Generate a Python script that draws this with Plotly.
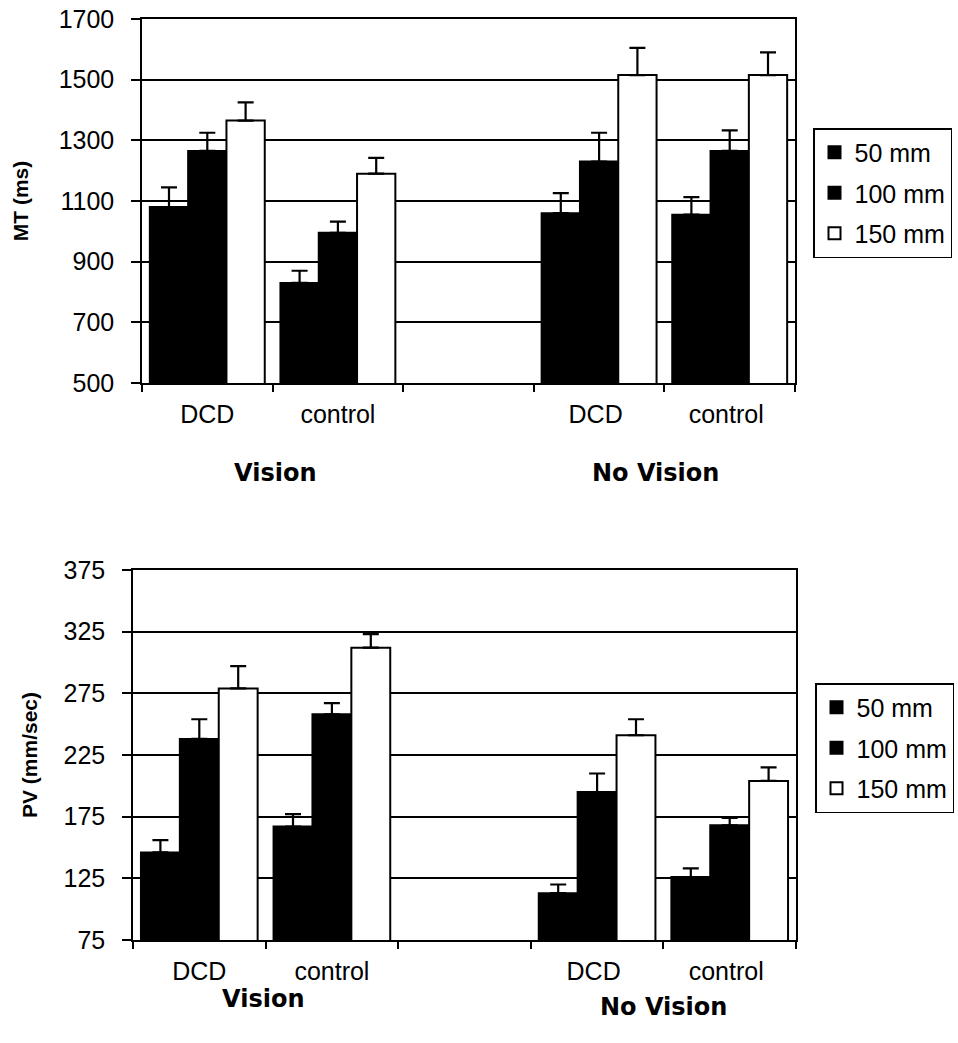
import plotly.graph_objects as go

# ---- data ----
categories = ["DCD", "control", " ", "DCD ", "control "]
series_names = ["50 mm", "100 mm", "150 mm"]

mt_50 = [1080, 830, None, 1060, 1055]
mt_100 = [1265, 995, None, 1230, 1265]
mt_150 = [1365, 1190, None, 1515, 1515]
mt_50_err = [65, 40, None, 66, 58]
mt_100_err = [60, 37, None, 95, 68]
mt_150_err = [60, 52, None, 90, 75]

pv_50 = [146, 167, None, 113, 126]
pv_100 = [238, 258, None, 195, 168]
pv_150 = [279, 312, None, 241, 204]
pv_50_err = [10, 10, None, 7, 7]
pv_100_err = [16, 9, None, 15, 6]
pv_150_err = [18, 11, None, 13, 11]

group_labels = ["Vision", "No Vision"]

W, H = 958, 1043


def px(x):
    return x / W


def py(y):
    return 1 - y / H


FONT = "Liberation Sans, Arial, sans-serif"
BOLD_FONT = "DejaVu Sans, Verdana, sans-serif"

fills = ["black", "black", "white"]

fig = go.Figure()


def add_panel(vals, errs, xa, ya, legend):
    for name, v, e, fc in zip(series_names, vals, errs, fills):
        fig.add_trace(go.Bar(
            x=categories, y=v, name=name,
            marker=dict(color=fc, line=dict(color="black", width=2)),
            error_y=dict(type="data", symmetric=False, array=e,
                         arrayminus=[0 if a is not None else None for a in e],
                         color="black", thickness=2.2, width=8),
            xaxis=xa, yaxis=ya, legend=legend, legendgroup=legend + name,
        ))


add_panel([mt_50, mt_100, mt_150], [mt_50_err, mt_100_err, mt_150_err], "x", "y", "legend")
add_panel([pv_50, pv_100, pv_150], [pv_50_err, pv_100_err, pv_150_err], "x2", "y2", "legend2")


def xaxis_cfg(domain, anchor):
    return dict(
        domain=domain, anchor=anchor, type="category", categoryorder="array",
        categoryarray=categories, automargin=False,
        range=[-0.5, 4.5], tickson="boundaries", ticks="outside", ticklen=7,
        tickcolor="black", tickwidth=1.5, showline=True, linecolor="black", linewidth=1.5,
        mirror=True, showgrid=False, tickfont=dict(family=FONT, size=25, color="black"),
        ticklabelstandoff=8,
    )


def yaxis_cfg(domain, rng, dtick, title, anchor, standoff):
    return dict(
        domain=domain, range=rng, dtick=dtick, tick0=rng[0], ticks="outside", ticklen=9,
        tickcolor="black", tickwidth=1.5, showline=True, linecolor="black", linewidth=1.5,
        mirror=True, showgrid=True, gridcolor="black", gridwidth=1.5, zeroline=False,
        tickfont=dict(family=FONT, size=25, color="black"), ticklabelstandoff=12,
        ticklabeloverflow="allow",
        title=dict(text=title, font=dict(family=FONT, size=21, color="black"), standoff=standoff),
        anchor=anchor, automargin=False,
    )


fig.update_layout(
    width=W, height=H,
    margin=dict(l=0, r=0, t=0, b=0),
    paper_bgcolor="white", plot_bgcolor="white",
    barmode="group", bargap=0.12, bargroupgap=0,
    xaxis=xaxis_cfg([px(142), px(795)], "y"),
    yaxis=yaxis_cfg([py(383), py(19)], [500, 1700], 200, "<b>MT (ms)</b>", "x", 24),
    xaxis2=xaxis_cfg([px(133), px(796)], "y2"),
    yaxis2=yaxis_cfg([py(940), py(570)], [75, 375], 50, "<b>PV (mm/sec)</b>", "x2", 20),
    legend=dict(x=px(813), y=py(128), xanchor="left", yanchor="top",
                bgcolor="white", bordercolor="black", borderwidth=1.5,
                font=dict(family=FONT, size=25, color="black"), tracegroupgap=5,
                itemwidth=30),
    legend2=dict(x=px(815), y=py(683), xanchor="left", yanchor="top",
                 bgcolor="white", bordercolor="black", borderwidth=1.5,
                 font=dict(family=FONT, size=25, color="black"), tracegroupgap=5,
                 itemwidth=30),
    showlegend=True,
)

# group labels below categories
label_pos = [("x", 0.52, 473, "Vision"), ("x", 3.43, 473, "No Vision"),
             ("x2", 0.48, 999, "Vision"), ("x2", 3.5, 1007, "No Vision")]
for xref, xv, ypos, lab in label_pos:
    fig.add_annotation(x=xv, xref=xref, y=py(ypos), yref="paper", text="<b>" + lab + "</b>",
                       showarrow=False, yanchor="middle", xanchor="center",
                       font=dict(family=BOLD_FONT, size=24, color="black"))

fig.write_html("out.html", config={"displayModeBar": False},
               post_script="document.body.style.margin='0';document.body.style.overflow='hidden';")
